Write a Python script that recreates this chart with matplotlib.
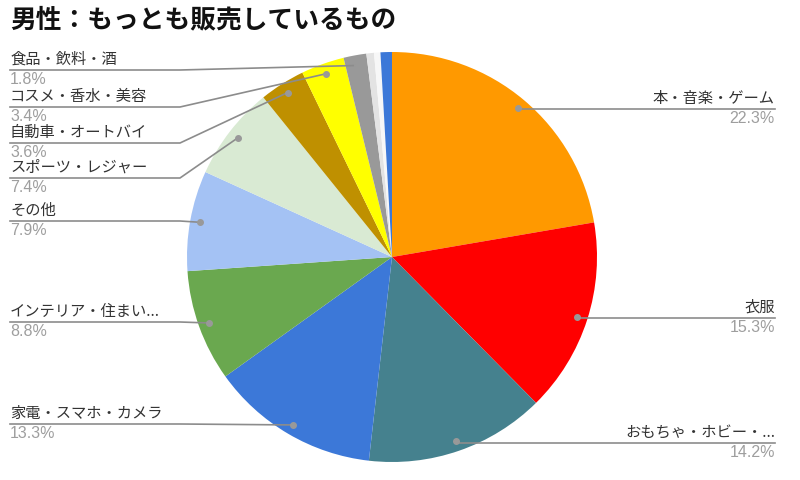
import numpy as np
import matplotlib
matplotlib.use('Agg')
import matplotlib.pyplot as plt
plt.rcParams['font.family'] = ['Noto Sans CJK JP', 'DejaVu Sans']

# データ（時計回り、12時の位置から）
labels = ['本・音楽・ゲーム', '衣服', 'おもちゃ・ホビー・...', '家電・スマホ・カメラ',
          'インテリア・住まい...', 'その他', 'スポーツ・レジャー', '自動車・オートバイ',
          'コスメ・香水・美容', '食品・飲料・酒', '', '', '']
values = [22.3, 15.3, 14.2, 13.3, 8.8, 7.9, 7.4, 3.6, 3.4, 1.8, 0.6, 0.5, 0.9]
colors = ['#ff9900', '#ff0000', '#45818e', '#3c78d8', '#6aa84f', '#a4c2f4',
          '#d9ead3', '#bf9000', '#ffff00', '#999999', '#e3e3e3', '#f7f7f7', '#3c78d8']
pct_text = ['22.3%', '15.3%', '14.2%', '13.3%', '8.8%', '7.9%', '7.4%',
            '3.6%', '3.4%', '1.8%']

# ラベル線の位置（ピクセル、上から）
label_side = ['R', 'R', 'R', 'L', 'L', 'L', 'L', 'L', 'L', 'L']
label_y = [109, 318, 443, 424, 322, 221, 178, 143, 107, 70]

W, H = 800, 480
cx, cy, r = 392, 257, 205

fig = plt.figure(figsize=(8, 4.8), dpi=100)
ax = fig.add_axes([0, 0, 1, 1])
ax.pie(values, colors=colors, startangle=90, counterclock=False,
       center=(cx, H - cy), radius=r, wedgeprops=dict(linewidth=0))
ax.set_xlim(0, W)
ax.set_ylim(0, H)
ax.set_aspect('equal')
ax.axis('off')

pct_font = ['Liberation Sans', 'DejaVu Sans']

# ラベルと引き出し線
total = sum(values)
start = 90.0
for i, v in enumerate(values):
    ang = start - v / total * 360 / 2
    start -= v / total * 360
    if i >= len(pct_text):
        continue
    a = np.deg2rad(ang)
    dx = cx + 0.95 * r * np.cos(a)
    dy = (H - cy) + 0.95 * r * np.sin(a)
    ly = H - label_y[i]
    if label_side[i] == 'R':
        ax.plot([dx, 775], [ly, ly], color='#8c8c8c', lw=1.2, zorder=3)
        ax.text(775, ly + 2, labels[i], ha='right', va='bottom',
                fontsize=11, color='#333333')
        ax.text(775, ly - 2, pct_text[i], ha='right', va='top',
                fontsize=11.5, color='#9e9e9e', family=pct_font)
    else:
        bx = min(180, dx)
        ax.plot([10, bx, dx], [ly, ly, dy], color='#8c8c8c', lw=1.2, zorder=3)
        ax.text(10, ly + 2, labels[i], ha='left', va='bottom',
                fontsize=11, color='#333333')
        ax.text(10, ly - 2, pct_text[i], ha='left', va='top',
                fontsize=11.5, color='#9e9e9e', family=pct_font)
    ax.plot(dx, dy, 'o', color='#999999', ms=4, zorder=4)

fig.text(10 / W, 1 - 6 / H, '男性：もっとも販売しているもの', ha='left', va='top',
         fontsize=18.5, fontweight='bold', color='#111111')

fig.savefig('out.png', dpi=100)
